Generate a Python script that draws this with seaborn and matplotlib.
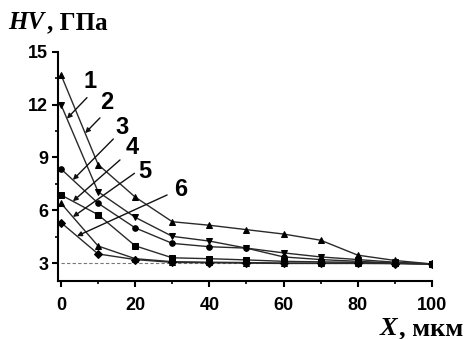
import numpy as np
import pandas as pd
import matplotlib
matplotlib.use("Agg")
import matplotlib.pyplot as plt
import seaborn as sns

# depth, um
x_um = [0, 10, 20, 30, 40, 50, 60, 70, 80, 90, 100]

# hardness HV, GPa
hv_1 = [12.0, 7.05, 5.6, 4.52, 4.25, 3.85, 3.58, 3.35, 3.2, 3.05, 2.95]
hv_2 = [13.7, 8.6, 6.75, 5.35, 5.15, 4.9, 4.65, 4.3, 3.45, 3.15, 2.95]
hv_3 = [8.35, 6.4, 5.0, 4.12, 3.93, 3.85, 3.35, 3.2, 3.1, 3.0, 2.95]
hv_4 = [6.87, 5.75, 3.98, 3.3, 3.25, 3.18, 3.1, 3.07, 3.04, 3.0, 2.95]
hv_5 = [6.4, 3.97, 3.25, 3.08, 3.05, 3.03, 3.0, 3.0, 3.0, 2.98, 2.95]
hv_6 = [5.3, 3.52, 3.2, 3.04, 3.02, 3.0, 2.98, 2.98, 2.98, 2.97, 2.95]

curve_ids = ["1", "2", "3", "4", "5", "6"]
markers = ["v", "^", "o", "s", "^", "D"]

# label text position, arrow tail, x where the arrow touches its curve
label_pos = [(7.8, 13.3), (12.4, 12.1), (16.5, 10.7), (19.2, 9.55), (22.7, 8.2), (32.2, 7.2)]
arrow_tail = [(7.0, 12.4), (10.5, 11.25), (14.1, 10.05), (15.9, 8.86), (19.8, 8.1), (28.6, 6.87)]
arrow_head_x = [1.6, 6.5, 3.2, 3.2, 3.2, 4.3]

base_hv = 3.0

all_hv = [hv_1, hv_2, hv_3, hv_4, hv_5, hv_6]
df = pd.DataFrame({
    "x": x_um * 6,
    "hv": sum(all_hv, []),
    "curve": [c for c in curve_ids for _ in x_um],
})

sns.set_style("ticks", {"axes.edgecolor": "black", "xtick.color": "black",
                        "ytick.color": "black", "text.color": "black"})
plt.rcParams["font.family"] = ["Liberation Sans", "DejaVu Sans"]
plt.rcParams["font.weight"] = "bold"

fig = plt.figure(figsize=(4.68, 3.39), dpi=100)
ax = fig.add_axes([0.124, 0.172, 0.799, 0.675])

ax.plot([0, 100], [base_hv, base_hv], ls=(0, (3, 2)), color="#777777", lw=0.8, zorder=1)

for cid, m in zip(curve_ids, markers):
    sub = df[df["curve"] == cid]
    sns.lineplot(data=sub, x="x", y="hv", ax=ax, color="#2a2a2a", lw=1.0,
                 marker=m, markersize=4, markerfacecolor="black",
                 markeredgecolor="black", legend=False)

for cid, hv, tp, tl, hx in zip(curve_ids, all_hv, label_pos, arrow_tail, arrow_head_x):
    ax.text(tp[0], tp[1], cid, fontsize=17, fontweight="bold",
            ha="center", va="center", color="black")
    head = (hx, np.interp(hx, x_um, hv))
    ax.annotate("", xy=head, xytext=tl,
                arrowprops=dict(arrowstyle="-|>", color="#111111", lw=1.0,
                                mutation_scale=7, shrinkA=0, shrinkB=0))

ax.set_xlim(-0.8, 100)
ax.set_ylim(2, 15)
ax.set_xticks([0, 20, 40, 60, 80, 100])
ax.set_xticks([10, 30, 50, 70, 90], minor=True)
ax.set_yticks([3, 6, 9, 12, 15])
ax.set_yticks([4.5, 7.5, 10.5, 13.5], minor=True)
ax.tick_params(axis="both", which="major", length=4, width=1.5, labelsize=13,
               direction="out", color="black", labelcolor="black")
ax.tick_params(axis="both", which="minor", length=2.5, width=1.2, direction="out", color="black")
ax.tick_params(axis="x", pad=8)
ax.tick_params(axis="y", pad=3)
for lab in ax.get_xticklabels() + ax.get_yticklabels():
    lab.set_fontweight("bold")

sns.despine(ax=ax)
for s in ["left", "bottom"]:
    ax.spines[s].set_linewidth(1.5)
    ax.spines[s].set_color("black")
ax.set_xlabel("")
ax.set_ylabel("")

fig.text(8 / 468, 1 - 29 / 339, "HV", fontsize=18, fontweight="bold", fontstyle="italic",
         family="Liberation Serif", ha="left", va="baseline", color="black")
fig.text(47 / 468, 1 - 29 / 339, ", ГПа", fontsize=18, fontweight="bold",
         family="Liberation Serif", ha="left", va="baseline", color="black")
fig.text(380 / 468, 1 - 335 / 339, "X", fontsize=19, fontweight="bold", fontstyle="italic",
         family="Liberation Serif", ha="left", va="baseline", color="black")
fig.text(399 / 468, 1 - 335 / 339, ", мкм", fontsize=19, fontweight="bold",
         family="Liberation Serif", ha="left", va="baseline", color="black")

fig.savefig("out.png", dpi=100)
